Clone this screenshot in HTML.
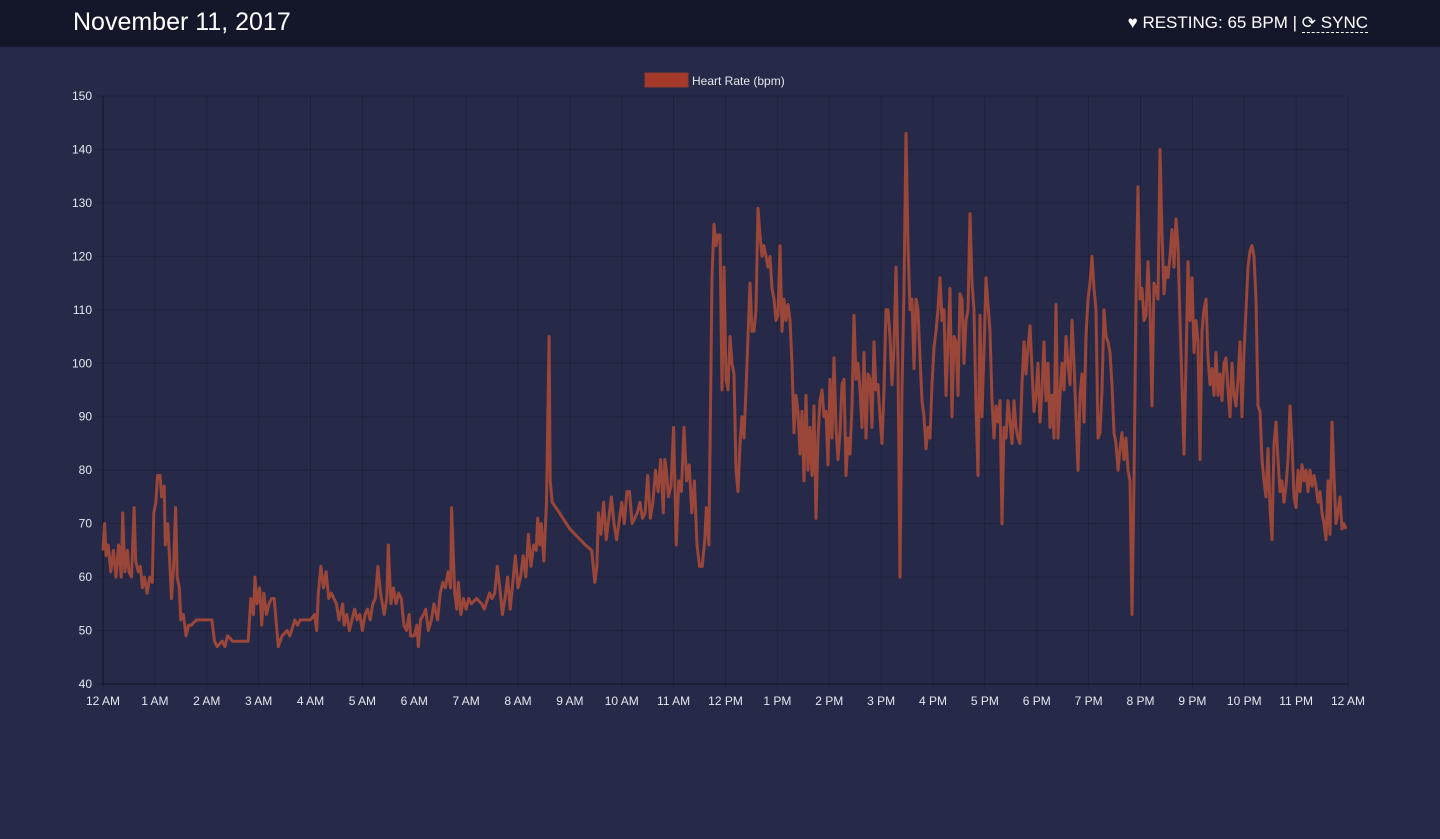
<!DOCTYPE html>
<html><head><meta charset="utf-8"><style>
body{margin:0;width:1440px;height:839px;background:#262a48;overflow:hidden;font-family:"Liberation Sans",sans-serif}
#hdr{position:absolute;left:0;top:0;width:1440px;height:47px;background:#141729}
#title{position:absolute;left:73px;top:8px;color:#fff;font-size:25px}
#right{position:absolute;right:72px;top:13px;color:#fff;font-size:17px}
#sync{border-bottom:1px dashed #fff}
</style></head><body>
<div id="hdr">
<div id="title">November 11, 2017</div>
<div id="right">♥ RESTING: 65 BPM | <span id="sync">⟳ SYNC</span></div>
</div>
<svg id="chart" width="1440" height="839" style="position:absolute;left:0;top:0"></svg>
<script>
const timesA=[0,0.03,0.06,0.1,0.15,0.2,0.25,0.3,0.35,0.38,0.42,0.47,0.5,0.55,0.6,0.63,0.68,0.72,0.76,0.8,0.85,0.9,0.95,0.98,1.02,1.05,1.1,1.13,1.18,1.2,1.25,1.28,1.32,1.36,1.4,1.43,1.47,1.5,1.55,1.6,1.65,1.7,1.8,1.9,2.0,2.1,2.15,2.2,2.3,2.35,2.4,2.5,2.6,2.7,2.8,2.85,2.9,2.93,2.97,3.02,3.06,3.1,3.15,3.2,3.25,3.3,3.38,3.45,3.55,3.6,3.7,3.75,3.8,3.9,4.0,4.08,4.12,4.15,4.2,4.25,4.3,4.35,4.4,4.5,4.55,4.62,4.65,4.7,4.75,4.85,4.9,4.95,5.0,5.05,5.1,5.15,5.2,5.25,5.3,5.35,5.42,5.47,5.5,5.55,5.6,5.65,5.7,5.75,5.8,5.85,5.9,5.93,6.0,6.05,6.08,6.12,6.18,6.22,6.27,6.33,6.38,6.45,6.5,6.55,6.6,6.65,6.7,6.72,6.78,6.82,6.85,6.9,6.95,7.0,7.05,7.1,7.2,7.3,7.35,7.45,7.5,7.55,7.6,7.65,7.7,7.75,7.8,7.85,7.9,7.95,8.0,8.05,8.1,8.15,8.2,8.25,8.3,8.35,8.38,8.42,8.45,8.5,8.55,8.6,8.62,8.66,8.8,9.0,9.3,9.42,9.48,9.52,9.55,9.6,9.65,9.7,9.8,9.85,9.9,10.0,10.05,10.1,10.15,10.2,10.3,10.35,10.4,10.45,10.5,10.55,10.6,10.65,10.7,10.75,10.8,10.83,10.86,10.9,10.95,11.0,11.05,11.1,11.15,11.2,11.25,11.3,11.35,11.4,11.45,11.5,11.55,11.6,11.63,11.68];
const bpmA=[65,70,64,66,61,65,60,66,60,72,61,65,61,60,73,63,61,62,58,60,57,60,59,72,74,79,79,75,77,66,70,64,56,62,73,60,58,52,53,49,51,51,52,52,52,52,48,47,48,47,49,48,48,48,48,56,53,60,55,58,51,57,53,55,56,56,47,49,50,49,52,51,52,52,52,53,50,57,62,58,61,56,57,55,52,55,51,53,50,54,52,53,50,53,54,52,55,56,62,57,53,56,66,55,58,55,57,56,51,50,53,49,49,51,47,52,53,54,50,52,55,52,57,59,58,61,58,73,57,54,59,53,56,54,56,55,56,55,54,57,56,57,62,58,53,56,60,54,59,64,58,60,64,60,68,62,66,65,71,66,70,63,74,105,78,74,72,69,66,65,59,62,72,68,74,67,75,70,67,74,70,76,76,70,72,74,71,72,79,71,74,80,76,82,72,82,80,75,77,88,66,78,76,88,78,81,72,78,66,62,62,67,73,66,78];
const startB=11.74, stepB=0.038554;
const bpmB=[116,126,122,124,124,95,118,97,95,105,100,98,80,76,85,90,86,95,105,115,106,106,110,129,124,120,122,120,118,120,114,112,108,109,122,106,112,108,111,108,100,87,94,91,83,91,78,94,80,88,79,92,71,86,93,95,90,91,81,97,86,101,88,82,87,96,97,79,86,83,92,109,97,100,95,88,102,86,98,97,88,104,95,96,90,85,95,110,110,105,96,103,118,100,60,95,114,143,122,110,112,99,112,110,101,93,90,84,88,86,96,103,106,110,116,108,110,94,104,114,90,105,104,94,113,112,100,108,110,128,115,110,92,79,109,90,102,116,111,106,93,86,92,89,93,70,88,86,93,89,85,93,88,86,85,96,104,98,103,107,99,91,94,100,89,95,104,93,100,88,94,86,111,86,94,100,95,105,100,96,108,100,90,80,94,98,89,105,112,115,120,114,110,86,87,95,110,105,104,102,96,87,85,80,84,87,82,86,80,78,53,78,112,133,112,114,108,109,119,110,92,115,114,112,140,124,113,118,116,120,125,118,127,122,108,96,83,100,119,108,116,102,108,104,82,106,110,112,101,96,99,94,102,94,98,93,100,101,95,90,100,94,92,97,104,90,102,110,118,121,122,120,112,92,91,82,78,75,84,73,67,85,89,82,76,78,74,77,82,92,85,75,73,80,76,81,78,80,76,80,77,79,77,74,76,72,70,67,78,68,89,79,70,72,75,69,70,69];
const yTicks=[40,50,60,70,80,90,100,110,120,130,140,150];
const xLabels=["12 AM","1 AM","2 AM","3 AM","4 AM","5 AM","6 AM","7 AM","8 AM","9 AM","10 AM","11 AM","12 PM","1 PM","2 PM","3 PM","4 PM","5 PM","6 PM","7 PM","8 PM","9 PM","10 PM","11 PM","12 AM"];
const X0=103,X1=1348,Y0=684,Y1=96;
const xs=h=>X0+h/24*(X1-X0);
const ys=v=>Y0-(v-40)/110*(Y0-Y1);
const svg=document.getElementById('chart');const NS='http://www.w3.org/2000/svg';
function mk(t,a){const e=document.createElementNS(NS,t);for(const k in a)e.setAttribute(k,a[k]);svg.appendChild(e);return e;}
yTicks.forEach(v=>{
 const l=mk('line',{x1:X0-6,x2:X1,y1:ys(v),y2:ys(v),stroke:'rgba(0,0,0,0.18)'});
 
 
 const t=mk('text',{x:92,y:ys(v)+4,'text-anchor':'end','font-size':12,fill:'#e6e6ee'});t.textContent=v;
 
 
});
xLabels.forEach((s,i)=>{
 const l=mk('line',{x1:xs(i),x2:xs(i),y1:Y1,y2:Y0+6,stroke:'rgba(0,0,0,0.18)'});
 
 
 const t=mk('text',{x:xs(i),y:705,'text-anchor':'middle','font-size':12,fill:'#e6e6ee'});t.textContent=s;
 
 
});
const ax=mk('line',{x1:X0,x2:X0,y1:Y1,y2:Y0,stroke:'rgba(0,0,0,0.45)'});


const ax2=mk('line',{x1:X0,x2:X1,y1:Y0,y2:Y0,stroke:'rgba(0,0,0,0.45)'});


let pts=timesA.map((h,i)=>[xs(h),ys(bpmA[i])]);
bpmB.forEach((v,i)=>pts.push([xs(startB+i*stepB),ys(v)]));
const p=mk('polyline',{points:pts.map(q=>q[0].toFixed(1)+','+q[1].toFixed(1)).join(' '),fill:'none',stroke:'#9a4638',"stroke-width":3,"stroke-linejoin":'round'});


const lb=mk('rect',{x:645,y:73,width:43,height:14,fill:'#a53a2b',stroke:'#8f3a30'});


const lt=mk('text',{x:692,y:85,'font-size':12,fill:'#e6e6ee'});lt.textContent='Heart Rate (bpm)';


</script>
</body></html>
